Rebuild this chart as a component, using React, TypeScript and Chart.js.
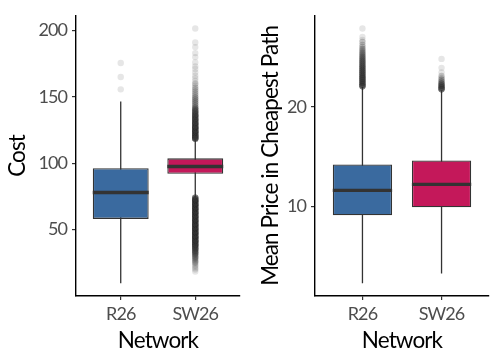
import React, { useEffect, useRef } from 'react';
import { Chart, registerables } from 'chart.js';

Chart.register(...registerables);

// ---------- data ----------
const categories = ['R26', 'SW26'];
const boxColors = ['#3a6a9f', '#c4185a'];
const xTicks = [1, 2];

// Panel 1: Cost
const costTicks = [50, 100, 150, 200];
const costWhiskerLow = [9.6, 74];
const costQ1 = [58.1, 92.1];
const costMedian = [78, 97.6];
const costQ3 = [96.3, 103.7];
const costWhiskerHigh = [146.5, 118.4];
const costOutR26Values = [155.7, 165, 175.5];
const costOutR26Counts = [1, 1, 1];
const costOutSW26Values = [
  201.5, 191, 187.5, 183, 180, 176, 173, 171, 168.5, 166, 164, 162, 160, 158.5, 157, 155.5, 154, 152.5, 151,
  149.5, 148, 146.5, 145, 143.5, 142, 141, 140, 139, 138, 137, 136, 135, 134, 133, 132, 131, 130, 129, 128,
  127, 126, 125, 124, 123, 122, 121, 120, 119, 118.5,
  74, 73, 72, 71, 70, 69, 68, 67, 66, 65, 64, 63, 62, 61, 60, 59, 58, 57, 56, 55, 54, 53, 52, 51, 50, 49,
  48, 47, 46, 45, 44, 43, 42, 41, 40, 39, 38, 37, 36, 35, 34, 33, 32, 31, 30, 29, 28, 27, 26, 25, 24, 23,
  22, 21, 20, 18.5,
];
const costOutSW26Counts = [
  1, 1, 1, 1, 1, 1, 1, 1, 1, 1, 1, 1, 2, 1, 2, 2, 2, 2, 2,
  3, 3, 3, 3, 3, 4, 4, 4, 5, 5, 5, 6, 6, 6, 6, 6, 7, 7, 7, 7,
  8, 8, 8, 8, 8, 8, 8, 8, 8, 8,
  8, 8, 8, 8, 8, 8, 8, 8, 8, 8, 8, 8, 8, 8, 8, 8, 8, 8, 8, 8, 8, 8, 8, 8, 8, 8,
  8, 8, 8, 8, 8, 8, 8, 8, 7, 7, 7, 6, 6, 5, 5, 4, 4, 3, 3, 3, 2, 2, 2, 2, 1, 1,
  1, 1, 1, 1,
];

// Panel 2: Mean Price in Cheapest Path
const priceTicks = [10, 20];
const priceWhiskerLow = [2.27, 3.25];
const priceQ1 = [9.1, 9.9];
const priceMedian = [11.6, 12.2];
const priceQ3 = [14.2, 14.6];
const priceWhiskerHigh = [22.0, 21.66];
const priceOutR26Values = [
  27.85, 27.0, 26.7, 26.5, 26.2, 26.0, 25.8, 25.6, 25.4, 25.2, 25.0, 24.8, 24.6, 24.4, 24.2, 24.0, 23.8,
  23.6, 23.4, 23.2, 23.0, 22.8, 22.6, 22.4, 22.2, 22.05,
];
const priceOutR26Counts = [
  1, 1, 1, 2, 2, 2, 3, 3, 4, 4, 5, 5, 6, 6, 6, 7, 7, 8, 8, 8, 8, 8, 8, 8, 8, 8,
];
const priceOutSW26Values = [24.8, 23.9, 23.45, 23.1, 22.9, 22.7, 22.5, 22.3, 22.1, 21.9, 21.75];
const priceOutSW26Counts = [1, 1, 1, 2, 2, 3, 4, 6, 8, 8, 8];

// ---------- helpers ----------
const FONT = "Lato, sans-serif";

function expand(values: number[], counts: number[]) {
  const out: number[] = [];
  values.forEach((v, i) => {
    for (let k = 0; k < counts[i]; k++) out.push(v);
  });
  return out;
}

type PanelData = {
  title: string;
  ticks: number[];
  low: number[];
  q1: number[];
  median: number[];
  q3: number[];
  high: number[];
  outliers: number[][];
  yAxisWidth: number;
  yTitlePad: number;
};

const BOX_WIDTH = 0.75;

const condensePlugin = {
  id: 'condense',
  beforeDraw(chart: any) {
    (chart.ctx as any).letterSpacing = '-0.9px';
  },
};

function buildConfig(p: PanelData): any {
  const datasets: any[] = [];
  categories.forEach((_, i) => {
    const x = xTicks[i];
    datasets.push({
      type: 'line',
      data: [
        { x, y: p.low[i] },
        { x, y: p.high[i] },
      ],
      borderColor: '#333333',
      borderWidth: 1.3,
      pointRadius: 0,
      order: 3,
    });
    datasets.push({
      type: 'line',
      data: [
        { x: x - BOX_WIDTH / 2, y: p.median[i] },
        { x: x + BOX_WIDTH / 2, y: p.median[i] },
      ],
      borderColor: '#333333',
      borderWidth: 3.4,
      borderCapStyle: 'butt',
      pointRadius: 0,
      order: 1,
    });
    datasets.push({
      type: 'scatter',
      data: p.outliers[i].map((y) => ({ x, y })),
      pointRadius: 3.2,
      backgroundColor: 'rgba(51,51,51,0.12)',
      borderWidth: 0,
      order: 0,
    });
  });
  datasets.push({
    type: 'bar',
    data: categories.map((_, i) => ({ x: xTicks[i], y: [p.q1[i], p.q3[i]] })),
    backgroundColor: boxColors,
    borderColor: '#333333',
    borderWidth: 1.3,
    borderSkipped: false,
    barPercentage: BOX_WIDTH,
    categoryPercentage: 1,
    order: 2,
  });

  const all = [...p.low, ...p.high, ...p.outliers.flat()];
  const lo = Math.min(...all);
  const hi = Math.max(...all);
  const pad = (hi - lo) * 0.05;

  return {
    type: 'bar',
    data: { datasets },
    plugins: [condensePlugin],
    options: {
      responsive: false,
      animation: false,
      events: [],
      layout: { padding: { left: 0, top: 9, right: 9, bottom: 0 } },
      plugins: { legend: { display: false }, tooltip: { enabled: false } },
      scales: {
        x: {
          type: 'linear',
          min: 0.4,
          max: 2.6,
          offset: false,
          afterBuildTicks: (s: any) => {
            s.ticks = xTicks.map((v) => ({ value: v }));
          },
          afterFit: (s: any) => {
            s.height = 66;
          },
          ticks: {
            callback: (v: any) => {
              const idx = xTicks.indexOf(Number(v));
              return idx >= 0 ? categories[idx] : '';
            },
            color: '#4d4d4d',
            font: { family: FONT, size: 18 },
            padding: 3,
            maxRotation: 0,
            autoSkip: false,
          },
          grid: {
            display: true,
            offset: false,
            drawOnChartArea: false,
            drawTicks: true,
            tickLength: 4,
            color: '#333333',
            lineWidth: 1.2,
          },
          border: { display: true, color: '#000000', width: 1.4 },
          title: {
            display: true,
            text: 'Network',
            color: '#000000',
            font: { family: FONT, size: 22.5 },
            padding: { top: 0, bottom: 8 },
          },
        },
        y: {
          type: 'linear',
          min: lo - pad,
          max: hi + pad,
          afterBuildTicks: (s: any) => {
            s.ticks = p.ticks.map((v) => ({ value: v }));
          },
          afterFit: (s: any) => {
            s.width = p.yAxisWidth;
          },
          ticks: {
            color: '#4d4d4d',
            font: { family: FONT, size: 18 },
            padding: 5,
          },
          grid: {
            display: true,
            drawOnChartArea: false,
            drawTicks: true,
            tickLength: 4,
            color: '#333333',
            lineWidth: 1.2,
          },
          border: { display: true, color: '#000000', width: 1.4 },
          title: {
            display: true,
            text: p.title,
            color: '#000000',
            font: { family: FONT, size: 22.5 },
            padding: { top: p.yTitlePad, bottom: 0 },
          },
        },
      },
    },
  };
}

function Panel({ data }: { data: PanelData }) {
  const ref = useRef<HTMLCanvasElement | null>(null);
  useEffect(() => {
    if (!ref.current) return;
    const chart = new Chart(ref.current, buildConfig(data));
    return () => chart.destroy();
  }, [data]);
  return <canvas ref={ref} width={249} height={362} style={{ display: 'block', width: 249, height: 362 }} />;
}

const costPanel: PanelData = {
  title: 'Cost',
  ticks: costTicks,
  low: costWhiskerLow,
  q1: costQ1,
  median: costMedian,
  q3: costQ3,
  high: costWhiskerHigh,
  outliers: [expand(costOutR26Values, costOutR26Counts), expand(costOutSW26Values, costOutSW26Counts)],
  yAxisWidth: 76,
  yTitlePad: 4,
};

const pricePanel: PanelData = {
  title: 'Mean Price in Cheapest Path',
  ticks: priceTicks,
  low: priceWhiskerLow,
  q1: priceQ1,
  median: priceMedian,
  q3: priceQ3,
  high: priceWhiskerHigh,
  outliers: [expand(priceOutR26Values, priceOutR26Counts), expand(priceOutSW26Values, priceOutSW26Counts)],
  yAxisWidth: 66,
  yTitlePad: 8,
};

export default function App() {
  return (
    <div
      style={{
        position: 'fixed',
        left: 0,
        top: 0,
        width: 498,
        height: 362,
        display: 'flex',
        background: '#ffffff',
      }}
    >
      <Panel data={costPanel} />
      <Panel data={pricePanel} />
    </div>
  );
}
